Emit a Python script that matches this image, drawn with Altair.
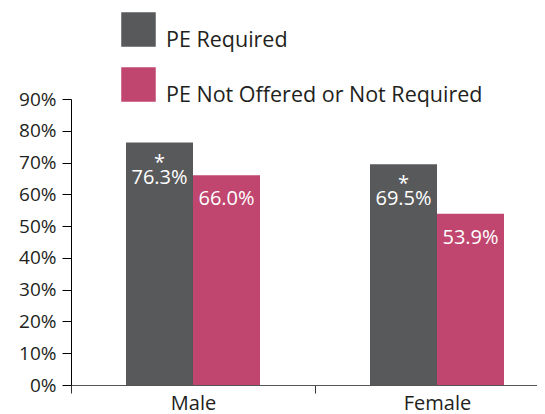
import altair as alt
import pandas as pd

genders = ["Male", "Male", "Female", "Female"]
groups = ["PE Required", "PE Not Offered or Not Required", "PE Required", "PE Not Offered or Not Required"]
values = [0.763, 0.660, 0.695, 0.539]
labels = ["76.3%", "66.0%", "69.5%", "53.9%"]
marks = ["*", "", "*", ""]

gender_order = ["Male", "Female"]
group_order = ["PE Required", "PE Not Offered or Not Required"]
colors = ["#58595b", "#c0466f"]
y_ticks = [0, 0.1, 0.2, 0.3, 0.4, 0.5, 0.6, 0.7, 0.8, 0.9]

df = pd.DataFrame({"gender": genders, "group": groups, "value": values,
                   "label": labels, "mark": marks})

FONT = "Open Sans"

x = alt.X("gender:N", sort=gender_order,
          scale=alt.Scale(domain=gender_order, range=[0, 488], paddingInner=0, paddingOuter=0),
          axis=alt.Axis(title=None, tickBand="extent", labelAngle=0, labelFontSize=20,
                        labelColor="#231f20", labelFont=FONT, tickSize=8, tickColor="#333333",
                        domainColor="#555555", labelPadding=0, grid=False))
xo = alt.XOffset("group:N", sort=group_order,
                 scale=alt.Scale(domain=group_order, paddingInner=0, paddingOuter=0.821))
y = alt.Y("value:Q", scale=alt.Scale(domain=[0, 0.9], nice=False),
          axis=alt.Axis(title=None, values=y_ticks, format=".0%", labelFontSize=19,
                        labelColor="#231f20", labelFont=FONT, tickSize=9, tickColor="#000000",
                        domainColor="#000000", labelPadding=6, grid=False))

bars = alt.Chart(df).mark_bar(size=67).encode(
    x=x, xOffset=xo, y=y,
    color=alt.Color("group:N", sort=group_order,
                    scale=alt.Scale(domain=group_order, range=colors),
                    legend=alt.Legend(title=None, orient="none", legendX=50, legendY=-87,
                                      symbolType="square", symbolSize=1190, symbolStrokeWidth=0,
                                      symbolOpacity=1, labelFontSize=21.5, labelFont=FONT,
                                      labelColor="#231f20", labelBaseline="top", labelOffset=10,
                                      rowPadding=16, labelLimit=400, padding=0)),
)

base_text = alt.Chart(df).encode(x=x, xOffset=xo, y=y, text="label:N")

gray_lbl = base_text.transform_filter(alt.datum.group == "PE Required").mark_text(
    color="white", fontSize=20, font=FONT, baseline="alphabetic", dy=41)
pink_lbl = base_text.transform_filter(alt.datum.group != "PE Required").mark_text(
    color="white", fontSize=20, font=FONT, baseline="alphabetic", dy=30)
star = alt.Chart(df).transform_filter(alt.datum.mark == "*").mark_text(
    color="white", fontSize=20, font=FONT, baseline="alphabetic", dy=26).encode(
    x=x, xOffset=xo, y=y, text="mark:N")

chart = alt.layer(bars, gray_lbl, pink_lbl, star).properties(
    width=466, height=286,
    autosize=alt.AutoSizeParams(type="none"),
    padding={"left": 63, "top": 91, "right": 0, "bottom": 29},
).configure_view(stroke=None)

chart.save("out.html", embed_options={"renderer": "svg", "actions": False})
